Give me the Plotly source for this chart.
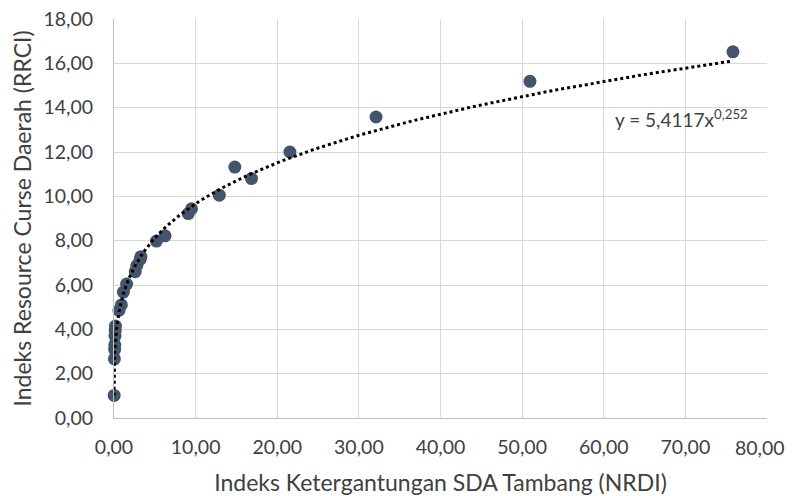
import numpy as np
import plotly.graph_objects as go

nrdi = [0.02, 0.05, 0.08, 0.10, 0.12, 0.15, 0.18, 0.6, 0.9, 1.15, 1.55, 2.6, 2.8, 3.2, 3.3,
        5.2, 6.25, 9.1, 9.5, 12.9, 14.8, 16.85, 21.55, 32.1, 50.96, 75.83]
rrci = [1.02, 2.67, 3.1, 3.3, 3.7, 3.95, 4.15, 4.85, 5.1, 5.68, 6.04, 6.6, 6.88, 7.15, 7.28,
        7.98, 8.22, 9.22, 9.44, 10.05, 11.32, 10.8, 12.0, 13.58, 15.19, 16.52]

coef_a = 5.4117
coef_b = 0.252

x_ticks = [0, 10, 20, 30, 40, 50, 60, 70, 80]
x_tick_labels = ["0,00", "10,00", "20,00", "30,00", "40,00", "50,00", "60,00", "70,00", "80,00"]
y_ticks = [0, 2, 4, 6, 8, 10, 12, 14, 16, 18]

xt = np.geomspace(0.00123, max(nrdi), 400)
yt = coef_a * xt ** coef_b

font_family = "Lato, 'Open Sans', sans-serif"
tick_size = 19.5

fig = go.Figure()
fig.add_trace(go.Scatter(
    x=nrdi, y=rrci, mode="markers",
    marker=dict(color="#44546A", size=13),
    cliponaxis=False, showlegend=False))
fig.add_trace(go.Scatter(
    x=xt, y=yt, mode="lines",
    line=dict(color="black", width=3, dash="dot"),
    cliponaxis=False, showlegend=False))

fig.add_annotation(x=69.5, y=13.5, xref="x", yref="y",
                   text="y = 5,4117x<sup>0,252</sup>", showarrow=False,
                   font=dict(family=font_family, size=19, color="#404040"))

# last x tick label drawn right-aligned so it is not cut at the window edge
fig.add_annotation(x=x_ticks[-1], y=0, xref="x", yref="y",
                   text=x_tick_labels[-1], showarrow=False,
                   xanchor="right", yanchor="middle", xshift=20, yshift=-29,
                   font=dict(family=font_family, size=tick_size, color="#404040"))

# page body has an 8px margin, so the figure is drawn 8px in from the top-left
fig.update_layout(
    width=787, height=488,
    margin=dict(l=106, r=28, t=11, b=78),
    paper_bgcolor="white", plot_bgcolor="white",
    font=dict(family=font_family, size=tick_size, color="#404040"),
    xaxis=dict(range=[0, 80], tickvals=x_ticks,
               ticktext=x_tick_labels[:-1] + [""],
               automargin=False, ticklabeloverflow="allow",
               showgrid=True, gridcolor="#D9D9D9", gridwidth=1,
               showline=True, linecolor="#BFBFBF", linewidth=1,
               zeroline=False, ticks="", ticklabelstandoff=12,
               title=dict(text="Indeks Ketergantungan SDA Tambang (NRDI)",
                          font=dict(size=23), standoff=18)),
    yaxis=dict(range=[0, 18], tickvals=y_ticks, tickformat=".2f",
               automargin=False, ticklabeloverflow="allow",
               showgrid=True, gridcolor="#D9D9D9", gridwidth=1,
               showline=True, linecolor="#BFBFBF", linewidth=1,
               zeroline=False, ticks="", ticklabelstandoff=16,
               title=dict(text="Indeks Resource Curse Daerah (RRCI)",
                          font=dict(size=23), standoff=8)),
    separators=", ",
)

fig.write_html("out.html")
